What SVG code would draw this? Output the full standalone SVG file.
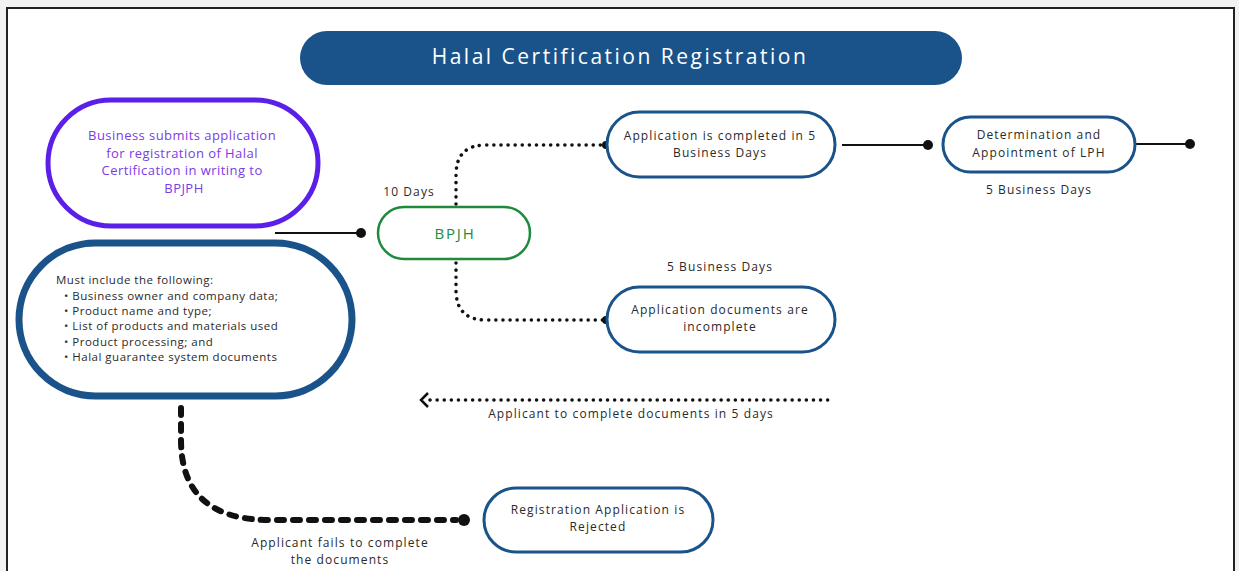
<svg xmlns="http://www.w3.org/2000/svg" width="1239" height="571" viewBox="0 0 1239 571">
<defs>
<style>
text{font-family:"Open Sans","Noto Sans",sans-serif;fill:#2a2a2a;font-weight:500;}
.lbl{font-size:12px;text-anchor:middle;letter-spacing:1.1px;}
.node{fill:#fff;stroke:#1a538a;stroke-width:3;}
.solid{stroke:#111;stroke-width:2;fill:none;}
.dot{stroke:#111;stroke-width:3.5;fill:none;stroke-dasharray:0.1 7;stroke-linecap:round;}
.thick{stroke:#111;stroke-width:6;fill:none;stroke-dasharray:7 9;stroke-linecap:round;}
.pt{fill:#111;}
</style>
</defs>
<rect x="0" y="0" width="1239" height="571" fill="#f2f2f2"/>
<rect x="7" y="8" width="1227" height="570" fill="#fff" stroke="#222" stroke-width="2"/>

<g id="connectors">
<path class="solid" d="M275,233 H361"/><circle class="pt" cx="361" cy="233" r="5"/>
<path class="dot" d="M456,204 V175 Q456,145 486,145 H604"/><circle class="pt" cx="606" cy="145" r="4"/>
<path class="dot" d="M456,263 V290 Q456,320 486,320 H604"/><circle class="pt" cx="606" cy="320" r="4"/>
<path class="solid" d="M842,145 H928"/><circle class="pt" cx="928" cy="145" r="5"/>
<path class="solid" d="M1135,144 H1190"/><circle class="pt" cx="1190" cy="144" r="5"/>
<path class="dot" d="M430,400 H828"/>
<path d="M428,393 L421,400 L428,407" fill="none" stroke="#111" stroke-width="2.5"/>
<path class="thick" d="M181,408 V440 Q181,520 270,520 H456"/><circle class="pt" cx="464" cy="520" r="6"/>
</g>

<g id="title">
<rect x="300" y="31" width="662" height="54" rx="27" fill="#1a538a"/>
<text x="620" y="64" style="font-size:21px;fill:#fff;text-anchor:middle;letter-spacing:2.5px;font-weight:400">Halal Certification Registration</text>
</g>

<g id="submit">
<rect x="48" y="100" width="270" height="126" rx="63" fill="#fff" stroke="#5a1fe8" stroke-width="5"/>
<text style="font-size:13px;fill:#7a3ce6;text-anchor:middle;letter-spacing:0.45px">
<tspan x="184" y="140">Business submits application</tspan>
<tspan x="184" y="157.5">for registration of Halal</tspan>
<tspan x="184" y="175">Certification in writing to</tspan>
<tspan x="184" y="192.5">BPJPH</tspan>
</text>
</g>

<g id="requirements">
<rect x="19" y="243" width="333" height="153" rx="76.5" fill="#fff" stroke="#1a538a" stroke-width="7"/>
<text style="font-size:11.5px;letter-spacing:0.5px">
<tspan x="56" y="284">Must include the following:</tspan>
<tspan x="64" y="300">• Business owner and company data;</tspan>
<tspan x="64" y="315">• Product name and type;</tspan>
<tspan x="64" y="330">• List of products and materials used</tspan>
<tspan x="64" y="345.5">• Product processing; and</tspan>
<tspan x="64" y="361">• Halal guarantee system documents</tspan>
</text>
</g>

<g id="bpjh">
<rect x="378" y="207" width="152" height="52" rx="26" fill="#fff" stroke="#1e8a3c" stroke-width="2.5"/>
<text x="455" y="239" style="font-size:15px;fill:#1e8a3c;text-anchor:middle;letter-spacing:1.8px;font-weight:400">BPJH</text>
</g>
<text class="lbl" x="409" y="196">10 Days</text>

<g id="completed">
<rect class="node" x="607" y="112" width="228" height="65" rx="32.5"/>
<text class="lbl"><tspan x="720" y="140">Application is completed in 5</tspan><tspan x="720" y="157">Business Days</tspan></text>
</g>

<g id="lph">
<rect class="node" x="943" y="117" width="192" height="55" rx="27.5"/>
<text class="lbl"><tspan x="1039" y="139">Determination and</tspan><tspan x="1039" y="157">Appointment of LPH</tspan></text>
</g>
<text class="lbl" x="1039" y="194">5 Business Days</text>

<text class="lbl" x="720" y="271">5 Business Days</text>
<g id="incomplete">
<rect class="node" x="607" y="287" width="228" height="65" rx="32.5"/>
<text class="lbl"><tspan x="720" y="314">Application documents are</tspan><tspan x="720" y="331">incomplete</tspan></text>
</g>

<text class="lbl" x="631" y="418">Applicant to complete documents in 5 days</text>

<g id="rejected">
<rect class="node" x="484" y="488" width="229" height="64" rx="32"/>
<text class="lbl"><tspan x="598" y="514">Registration Application is</tspan><tspan x="598" y="531">Rejected</tspan></text>
</g>
<text class="lbl"><tspan x="340" y="547">Applicant fails to complete</tspan><tspan x="340" y="564">the documents</tspan></text>
</svg>
